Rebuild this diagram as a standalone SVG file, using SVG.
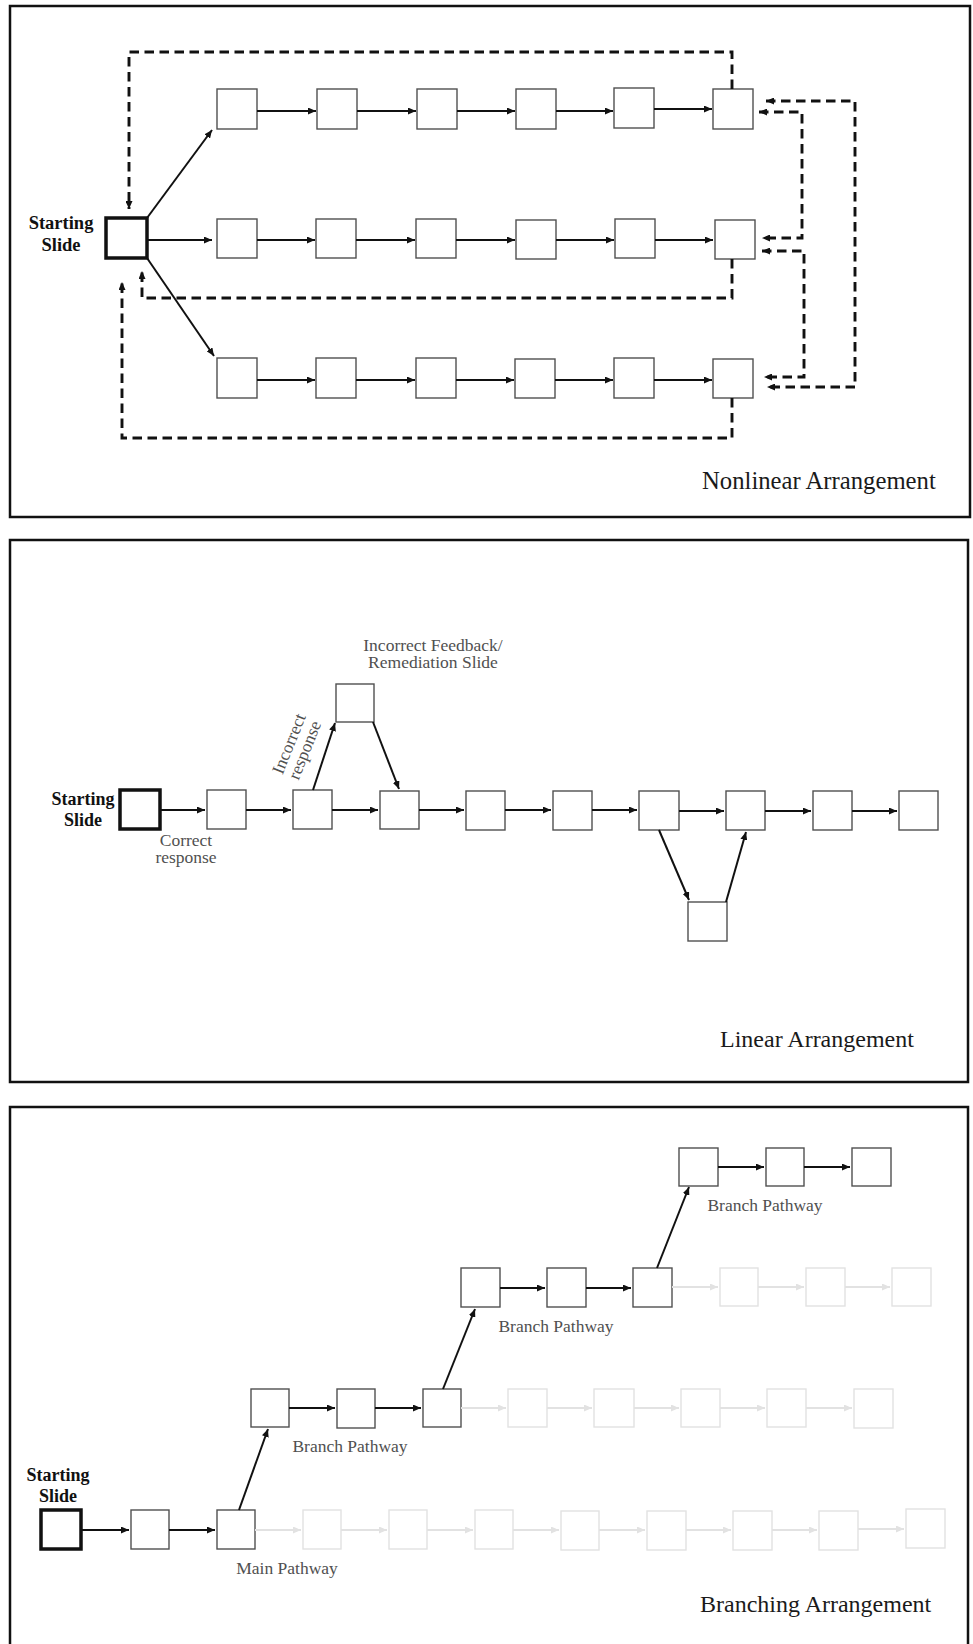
<svg xmlns="http://www.w3.org/2000/svg" width="973" height="1644" viewBox="0 0 973 1644">
<style>
.panel{fill:#fff;stroke:#111;stroke-width:2.5}
.box{fill:#fff;stroke:#505050;stroke-width:1.4}
.start{fill:#fff;stroke:#111;stroke-width:3.5}
.fbox{fill:#fff;stroke:#e2e2e2;stroke-width:1.4}
.arr{fill:none;stroke:#111;stroke-width:2;marker-end:url(#ah)}
.farr{fill:none;stroke:#e2e2e2;stroke-width:2;marker-end:url(#fah)}
.dash{fill:none;stroke:#111;stroke-width:2.9;stroke-dasharray:9.5 5.5}
.dash1{marker-end:url(#dh)}
.dash2{marker-start:url(#dh);marker-end:url(#dh)}
.lbl{font-family:"Liberation Serif","Times New Roman",serif;fill:#505050;font-size:17.5px}
.bold{font-family:"Liberation Serif","Times New Roman",serif;fill:#111;font-weight:bold;font-size:18px}
.title{font-family:"Liberation Serif","Times New Roman",serif;fill:#1a1a1a;font-size:24px}
</style>
<defs>
<marker id="ah" markerUnits="userSpaceOnUse" markerWidth="8" markerHeight="7" refX="8" refY="3.5" orient="auto"><path d="M0,0 L8,3.5 L0,7 z" fill="#111"/></marker>
<marker id="fah" markerUnits="userSpaceOnUse" markerWidth="8" markerHeight="7" refX="8" refY="3.5" orient="auto"><path d="M0,0 L8,3.5 L0,7 z" fill="#e2e2e2"/></marker>
<marker id="dh" markerUnits="userSpaceOnUse" markerWidth="8" markerHeight="7" refX="8" refY="3.5" orient="auto-start-reverse"><path d="M0,0 L8,3.5 L0,7 z" fill="#111"/></marker>
</defs>
<rect width="973" height="1644" fill="#fff"/>

<!-- Panel 1: Nonlinear -->
<g id="panel-nonlinear">
<rect class="panel" x="10" y="6" width="960" height="511"/>
<text class="title" x="702" y="489" style="font-size:24.7px">Nonlinear Arrangement</text>
</g>
<g id="nl-start"><rect class="start" x="106" y="218" width="41" height="40"/>
<text class="bold" style="font-size:18.5px" text-anchor="middle"><tspan x="61" y="229">Starting</tspan><tspan x="61" y="251">Slide</tspan></text></g>
<g id="nl-row1">
<rect class="box" x="217" y="89" width="40" height="40"/>
<rect class="box" x="317" y="89" width="40" height="40"/>
<rect class="box" x="417" y="89" width="40" height="40"/>
<rect class="box" x="516" y="89" width="40" height="40"/>
<rect class="box" x="614" y="88" width="40" height="40"/>
<rect class="box" x="713" y="89" width="40" height="40"/>
</g>
<g id="nl-row2">
<rect class="box" x="217" y="219" width="40" height="39"/>
<rect class="box" x="316" y="219" width="40" height="39"/>
<rect class="box" x="416" y="219" width="40" height="39"/>
<rect class="box" x="516" y="220" width="40" height="39"/>
<rect class="box" x="615" y="219" width="40" height="39"/>
<rect class="box" x="715" y="220" width="40" height="39"/>
</g>
<g id="nl-row3">
<rect class="box" x="217" y="358" width="40" height="40"/>
<rect class="box" x="316" y="358" width="40" height="40"/>
<rect class="box" x="416" y="358" width="40" height="40"/>
<rect class="box" x="515" y="359" width="40" height="39"/>
<rect class="box" x="614" y="358" width="40" height="40"/>
<rect class="box" x="713" y="359" width="40" height="39"/>
</g>
<g id="nl-connectors">
<path class="arr" d="M147,218 L212,130"/>
<path class="arr" d="M147,240 H212"/>
<path class="arr" d="M147,258 L214,356"/>
<path class="arr" d="M257,111 H316"/><path class="arr" d="M357,111 H416"/><path class="arr" d="M457,111 H515"/><path class="arr" d="M556,111 H613"/><path class="arr" d="M654,109 H712"/>
<path class="arr" d="M257,240 H315"/><path class="arr" d="M356,240 H415"/><path class="arr" d="M456,240 H515"/><path class="arr" d="M556,240 H614"/><path class="arr" d="M655,240 H713"/>
<path class="arr" d="M257,380 H315"/><path class="arr" d="M356,380 H415"/><path class="arr" d="M456,380 H514"/><path class="arr" d="M555,380 H613"/><path class="arr" d="M654,380 H712"/>
<path class="dash dash1" d="M732,89 V52 H129 V209"/>
<path class="dash dash1" d="M732,259 V298 H142 V271"/>
<path class="dash dash1" d="M732,398 V438 H122 V282"/>
<path class="dash dash2" d="M766,101 H855 V387 H767"/>
<path class="dash dash2" d="M759,112 H802 V238 H762"/>
<path class="dash dash2" d="M762,251 H804 V377 H764"/>
</g>

<!-- Panel 2: Linear -->
<g id="panel-linear">
<rect class="panel" x="10" y="540" width="958" height="542"/>
<text class="title" x="720" y="1047">Linear Arrangement</text>
</g>
<g id="ln-start"><rect class="start" x="120" y="790" width="40" height="39"/>
<text class="bold" text-anchor="middle"><tspan x="83" y="805">Starting</tspan><tspan x="83" y="826">Slide</tspan></text></g>
<g id="ln-row">
<rect class="box" x="207" y="790" width="39" height="39"/>
<rect class="box" x="293" y="790" width="39" height="39"/>
<rect class="box" x="380" y="791" width="39" height="38"/>
<rect class="box" x="466" y="791" width="39" height="39"/>
<rect class="box" x="553" y="791" width="39" height="39"/>
<rect class="box" x="639" y="791" width="40" height="39"/>
<rect class="box" x="726" y="791" width="39" height="39"/>
<rect class="box" x="813" y="791" width="39" height="39"/>
<rect class="box" x="899" y="791" width="39" height="39"/>
</g>
<g id="ln-remediation"><rect class="box" x="336" y="684" width="38" height="38"/>
<text class="lbl" text-anchor="middle"><tspan x="433" y="651">Incorrect Feedback/</tspan><tspan x="433" y="668">Remediation Slide</tspan></text></g>
<g id="ln-lower"><rect class="box" x="688" y="902" width="39" height="39"/></g>
<g id="ln-labels">
<text class="lbl" text-anchor="middle"><tspan x="186" y="846">Correct</tspan><tspan x="186" y="863">response</tspan></text>
<text class="lbl" text-anchor="middle" transform="translate(297,747) rotate(-68)"><tspan x="0" y="-3">Incorrect</tspan><tspan x="0" y="14">response</tspan></text>
</g>
<g id="ln-connectors">
<path class="arr" d="M160,810 H205"/><path class="arr" d="M246,810 H291"/><path class="arr" d="M332,810 H378"/><path class="arr" d="M419,810 H464"/><path class="arr" d="M505,810 H551"/><path class="arr" d="M592,810 H637"/><path class="arr" d="M679,811 H724"/><path class="arr" d="M765,811 H811"/><path class="arr" d="M852,811 H897"/>
<path class="arr" d="M313,790 L335,723"/>
<path class="arr" d="M373,722 L399,789"/>
<path class="arr" d="M659,830 L689,900"/>
<path class="arr" d="M726,902 L746,832"/>
</g>

<!-- Panel 3: Branching -->
<g id="panel-branching">
<rect class="panel" x="10" y="1107" width="958" height="560"/>
<text class="title" x="700" y="1612">Branching Arrangement</text>
</g>
<g id="br-start"><rect class="start" x="41" y="1510" width="40" height="39"/>
<text class="bold" text-anchor="middle"><tspan x="58" y="1481">Starting</tspan><tspan x="58" y="1502">Slide</tspan></text></g>
<g id="br-main">
<rect class="box" x="131" y="1510" width="38" height="39"/>
<rect class="box" x="217" y="1510" width="38" height="39"/>
<rect class="fbox" x="303" y="1510" width="38" height="39"/>
<rect class="fbox" x="389" y="1510" width="38" height="39"/>
<rect class="fbox" x="475" y="1510" width="38" height="39"/>
<rect class="fbox" x="561" y="1511" width="38" height="39"/>
<rect class="fbox" x="647" y="1511" width="39" height="39"/>
<rect class="fbox" x="733" y="1511" width="39" height="39"/>
<rect class="fbox" x="819" y="1511" width="39" height="39"/>
<rect class="fbox" x="906" y="1509" width="39" height="39"/>
<text class="lbl" x="287" y="1574" text-anchor="middle">Main Pathway</text>
</g>
<g id="br-branch1">
<rect class="box" x="251" y="1389" width="38" height="38"/>
<rect class="box" x="337" y="1389" width="38" height="39"/>
<rect class="box" x="423" y="1389" width="38" height="38"/>
<rect class="fbox" x="508" y="1389" width="39" height="38"/>
<rect class="fbox" x="594" y="1389" width="40" height="38"/>
<rect class="fbox" x="681" y="1389" width="39" height="38"/>
<rect class="fbox" x="767" y="1389" width="39" height="38"/>
<rect class="fbox" x="854" y="1389" width="39" height="39"/>
<text class="lbl" x="350" y="1452" text-anchor="middle">Branch Pathway</text>
</g>
<g id="br-branch2">
<rect class="box" x="461" y="1268" width="39" height="39"/>
<rect class="box" x="547" y="1268" width="39" height="39"/>
<rect class="box" x="633" y="1268" width="39" height="39"/>
<rect class="fbox" x="720" y="1268" width="38" height="38"/>
<rect class="fbox" x="806" y="1268" width="39" height="38"/>
<rect class="fbox" x="892" y="1268" width="39" height="38"/>
<text class="lbl" x="556" y="1332" text-anchor="middle">Branch Pathway</text>
</g>
<g id="br-branch3">
<rect class="box" x="679" y="1148" width="39" height="38"/>
<rect class="box" x="766" y="1148" width="38" height="38"/>
<rect class="box" x="852" y="1148" width="39" height="38"/>
<text class="lbl" x="765" y="1211" text-anchor="middle">Branch Pathway</text>
</g>
<g id="br-connectors">
<path class="arr" d="M81,1530 H129"/><path class="arr" d="M169,1530 H215"/>
<path class="farr" d="M255,1530 H301"/><path class="farr" d="M341,1530 H387"/><path class="farr" d="M427,1530 H473"/><path class="farr" d="M513,1530 H559"/><path class="farr" d="M599,1530 H645"/><path class="farr" d="M686,1530 H731"/><path class="farr" d="M772,1530 H817"/><path class="farr" d="M858,1529 H904"/>
<path class="arr" d="M289,1408 H335"/><path class="arr" d="M375,1408 H421"/>
<path class="farr" d="M461,1408 H506"/><path class="farr" d="M547,1408 H592"/><path class="farr" d="M634,1408 H679"/><path class="farr" d="M720,1408 H765"/><path class="farr" d="M806,1408 H852"/>
<path class="arr" d="M500,1288 H545"/><path class="arr" d="M586,1288 H631"/>
<path class="farr" d="M672,1287 H718"/><path class="farr" d="M758,1287 H804"/><path class="farr" d="M845,1287 H890"/>
<path class="arr" d="M718,1167 H764"/><path class="arr" d="M804,1167 H850"/>
<path class="arr" d="M239,1510 L268,1429"/>
<path class="arr" d="M443,1389 L475,1309"/>
<path class="arr" d="M657,1268 L689,1187"/>
</g>
</svg>
